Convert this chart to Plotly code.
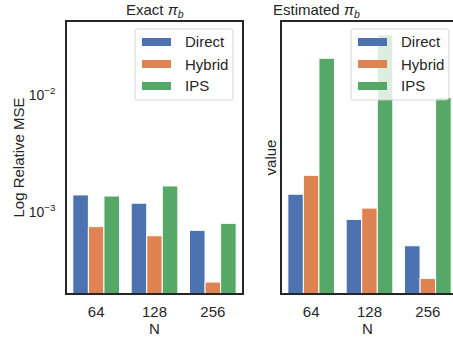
import plotly.graph_objects as go

# ---- data ----
N_labels = ["64", "128", "256"]
methods = ["Direct", "Hybrid", "IPS"]
exact_direct = [1.40e-3, 1.19e-3, 6.97e-4]
exact_hybrid = [7.5e-4, 6.27e-4, 2.52e-4]
exact_ips = [1.37e-3, 1.67e-3, 8.0e-4]
est_direct = [1.42e-3, 8.65e-4, 5.15e-4]
est_hybrid = [2.06e-3, 1.08e-3, 2.71e-4]
est_ips = [2.06e-2, 3.26e-2, 9.5e-3]
ytick_vals = [1e-3, 1e-2]
ytick_text = ["10<sup>−3</sup>", "10<sup>−2</sup>"]
colors = ["#4c72b0", "#dd8452", "#55a868"]

W, H = 453, 337
FONT = "Liberation Sans, Arial, sans-serif"
TXT = "#262626"

def px(x):
    return x / W

def py(y):
    return 1 - y / H

fig = go.Figure()
for name, vals, c in zip(methods, [exact_direct, exact_hybrid, exact_ips], colors):
    fig.add_trace(go.Bar(x=N_labels, y=vals, name=name, marker=dict(color=c, line=dict(color="white", width=1)),
                         xaxis="x", yaxis="y", showlegend=False))
for name, vals, c in zip(methods, [est_direct, est_hybrid, est_ips], colors):
    fig.add_trace(go.Bar(x=N_labels, y=vals, name=name, marker=dict(color=c, line=dict(color="white", width=1)),
                         xaxis="x2", yaxis="y2", showlegend=False))

ydom = [py(293), py(22)]
yrange = [-3.692, -1.376]
common_x = dict(type="category", showline=True, linecolor="#262626", linewidth=1.5, mirror=True,
                ticks="", showgrid=False, zeroline=False, ticklabelstandoff=4,
                tickfont=dict(size=15, color=TXT, family=FONT),
                title=dict(text="N", font=dict(size=15, color=TXT, family=FONT), standoff=4))

fig.update_layout(
    width=W, height=H, margin=dict(l=0, r=0, t=0, b=0),
    paper_bgcolor="white", plot_bgcolor="white",
    barmode="group", bargap=0.2, bargroupgap=0,
    font=dict(family=FONT, color=TXT),
    xaxis=dict(domain=[px(67), px(242)], range=[-0.5, 2.5], anchor="y", **common_x),
    xaxis2=dict(domain=[px(282), 1.0], range=[-0.5, 2.5 - 4 / 58.33], anchor="y2", **common_x),
    yaxis=dict(domain=ydom, type="log", range=yrange, anchor="x", showline=True, linecolor="#262626",
               linewidth=1.5, mirror=True, ticks="", showgrid=False, zeroline=False,
               tickvals=ytick_vals, ticktext=ytick_text, ticklabelstandoff=7,
               tickfont=dict(size=14, color=TXT, family=FONT),
               title=dict(text="Log Relative MSE", font=dict(size=15, color=TXT, family=FONT), standoff=0)),
    yaxis2=dict(domain=ydom, type="log", range=yrange, anchor="x2", showline=True, linecolor="#262626",
                linewidth=1.5, mirror=False, ticks="", showgrid=False, zeroline=False,
                showticklabels=False,
                title=dict(text="value", font=dict(size=15, color=TXT, family=FONT), standoff=0)),
)

# subplot titles
fig.add_annotation(x=px(154.5), y=py(22), xref="paper", yref="paper", showarrow=False, yanchor="bottom",
                   text="Exact <i>π</i><sub><i>b</i></sub>", font=dict(size=15, color=TXT, family=FONT))
fig.add_annotation(x=px(362), y=py(22), xref="paper", yref="paper", showarrow=False, yanchor="bottom",
                   text="Estimated <i>π</i><sub><i>b</i></sub>", font=dict(size=15, color=TXT, family=FONT))

# legends (matplotlib style boxes)
def rounded_rect(x0, y0, x1, y1, r=3):
    X0, X1 = px(x0), px(x1)
    Y0, Y1 = py(y0), py(y1)
    rx, ry = r / W, r / H
    return (f"M {X0+rx},{Y0} L {X1-rx},{Y0} Q {X1},{Y0} {X1},{Y0-ry} L {X1},{Y1+ry} Q {X1},{Y1} {X1-rx},{Y1} "
            f"L {X0+rx},{Y1} Q {X0},{Y1} {X0},{Y1+ry} L {X0},{Y0-ry} Q {X0},{Y0} {X0+rx},{Y0} Z")

for lx in [135, 351]:
    fig.add_shape(type="path", path=rounded_rect(lx, 29, lx + 98, 100), xref="paper", yref="paper",
                  fillcolor="rgba(255,255,255,0.8)", line=dict(color="rgba(204,204,204,0.8)", width=1), layer="above")
    for i, (name, c) in enumerate(zip(methods, colors)):
        cy = 42 + 22 * i
        fig.add_shape(type="rect", x0=px(lx + 7), x1=px(lx + 36), y0=py(cy - 4), y1=py(cy + 4),
                      xref="paper", yref="paper", fillcolor=c, line=dict(width=0), layer="above")
        fig.add_annotation(x=px(lx + 48), y=py(cy), xref="paper", yref="paper", showarrow=False,
                           xanchor="left", yanchor="middle", text=name,
                           font=dict(size=15, color=TXT, family=FONT))

fig.write_html("out.html")
